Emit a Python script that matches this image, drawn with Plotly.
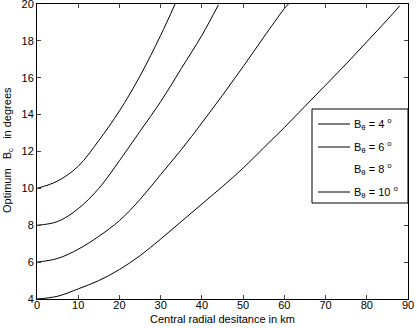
import plotly.graph_objects as go

# Data
x_b10 = [0, 5, 10, 15, 20, 25, 30, 33.5]
y_b10 = [10.0, 10.4, 11.2, 12.6, 14.2, 16.1, 18.3, 20.0]

x_b8 = [0, 5, 10, 15, 20, 25, 30, 35, 40, 44]
y_b8 = [8.0, 8.2, 8.9, 10.0, 11.5, 13.1, 14.7, 16.5, 18.3, 19.95]

x_b6 = [0, 5, 10, 15, 20, 25, 30, 35, 40, 45, 50, 55, 60, 61]
y_b6 = [6.0, 6.2, 6.7, 7.4, 8.25, 9.4, 10.75, 12.1, 13.55, 15.05, 16.6, 18.2, 19.75, 20.0]

x_b4 = [0, 5, 10, 15, 20, 25, 30, 35, 40, 45, 50, 55, 60, 65, 70, 75, 80, 85, 88]
y_b4 = [4.0, 4.15, 4.55, 5.0, 5.6, 6.35, 7.25, 8.2, 9.15, 10.1, 11.1, 12.2, 13.3, 14.45,
        15.6, 16.75, 17.95, 19.15, 19.9]

legend_labels = ["B<sub>θ</sub> = 4 <sup>o</sup>", "B<sub>θ</sub> = 6 <sup>o</sup>",
                 "B<sub>θ</sub> = 8 <sup>o</sup>", "B<sub>θ</sub> = 10 <sup>o</sup>"]
legend_sample_visible = [True, True, False, True]

x_ticks = [0, 10, 20, 30, 40, 50, 60, 70, 80, 90]
y_ticks = [4, 6, 8, 10, 12, 14, 16, 18, 20]

fig = go.Figure()
for xs, ys in [(x_b4, y_b4), (x_b6, y_b6), (x_b8, y_b8), (x_b10, y_b10)]:
    fig.add_trace(go.Scatter(x=xs, y=ys, mode="lines", line=dict(color="black", width=1, shape="spline"),
                             showlegend=False, hoverinfo="skip"))

# Manual legend (paper coords)
W, H = 417, 328
L, R, T, B = 37, 9, 4, 29
pw, ph = W - L - R, H - T - B

def px(xp):
    return (xp - L) / pw

def py(yp):
    return 1 - (yp - T) / ph

shapes = [dict(type="rect", xref="paper", yref="paper", x0=px(312), x1=px(408), y0=py(203), y1=py(109),
               line=dict(color="black", width=1), fillcolor="white", layer="above")]
annotations = []
rows = [124, 147, 169, 192]
for lab, vis, ry in zip(legend_labels, legend_sample_visible, rows):
    if vis:
        shapes.append(dict(type="line", xref="paper", yref="paper", x0=px(318), x1=px(350), y0=py(ry), y1=py(ry),
                           line=dict(color="black", width=1), layer="above"))
    annotations.append(dict(xref="paper", yref="paper", x=px(352), y=py(ry), text=lab, showarrow=False,
                            xanchor="left", yanchor="middle", font=dict(size=11, color="black", family="Liberation Sans")))

# axis titles as annotations for precise placement
annotations.append(dict(xref="paper", yref="paper", x=px(222), y=py(319), text="Central radial desitance in km",
                        showarrow=False, xanchor="center", yanchor="middle",
                        font=dict(size=11, color="black", family="Liberation Sans")))
annotations.append(dict(xref="paper", yref="paper", x=px(8), y=py(150), text="Optimum   B<sub>c</sub>   in degrees",
                        showarrow=False, xanchor="center", yanchor="middle", textangle=-90,
                        font=dict(size=11, color="black", family="Liberation Sans")))

fig.update_layout(
    width=W, height=H, margin=dict(l=L, r=R, t=T, b=B),
    paper_bgcolor="white", plot_bgcolor="white",
    font=dict(family="Liberation Sans", size=11, color="black"),
    shapes=shapes, annotations=annotations,
    xaxis=dict(range=[0, 90], tickvals=x_ticks, ticks="inside", ticklen=4, showline=True, mirror="ticks",
               linecolor="black", linewidth=1, showgrid=False, zeroline=False, automargin=False,
               ticklabeloverflow="allow", ticklabelstandoff=-4),
    yaxis=dict(range=[4, 20], tickvals=y_ticks, ticks="inside", ticklen=4, showline=True, mirror="ticks",
               linecolor="black", linewidth=1, showgrid=False, zeroline=False, automargin=False,
               ticklabeloverflow="allow"),
)

fig.write_html("out.html", post_script="document.body.style.margin='0';",
               config={"displayModeBar": False})
